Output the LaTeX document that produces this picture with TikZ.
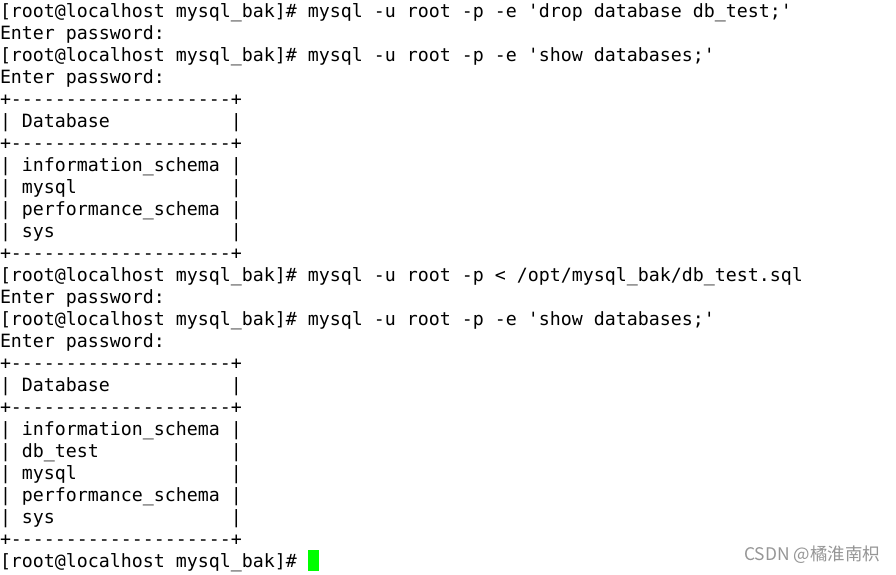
\documentclass[tikz,border=0pt]{standalone}
\usepackage{fontspec}
\setmonofont{DejaVu Sans Mono}
\newfontfamily\cjk{Noto Sans CJK SC}
\usepackage{tikz}
\definecolor{termgreen}{RGB}{0,255,0}
\definecolor{markgray}{RGB}{150,150,150}
\tikzset{
  termline/.style={anchor=base west,inner sep=0pt,outer sep=0pt,
    font=\ttfamily\fontsize{18.27}{22}\selectfont,text=black}
}
\newcommand{\tline}[3]{\node[termline] (#1) at (0,{-17.5-22*#2}) {#3};}

\begin{document}
\begin{tikzpicture}[x=1pt,y=1pt]
\useasboundingbox[fill=white] (0,0) rectangle (896,-574);
% drop the database
\tline{cmdA}{0}{[root@localhost mysql\_bak]\# mysql -u root -p -e 'drop database db\_test;'}
\tline{pwA}{1}{Enter password:}
% list what is left
\tline{cmdB}{2}{[root@localhost mysql\_bak]\# mysql -u root -p -e 'show databases;'}
\tline{pwB}{3}{Enter password:}
\tline{tbA}{4}{+--------------------+}
\tline{hdA}{5}{|~Database~~~~~~~~~~~|}
\tline{tbB}{6}{+--------------------+}
\tline{rA}{7}{|~information\_schema~|}
\tline{rB}{8}{|~mysql~~~~~~~~~~~~~~|}
\tline{rC}{9}{|~performance\_schema~|}
\tline{rD}{10}{|~sys~~~~~~~~~~~~~~~~|}
\tline{tbC}{11}{+--------------------+}
% restore from the dump
\tline{cmdC}{12}{[root@localhost mysql\_bak]\# mysql -u root -p < /opt/mysql\_bak/db\_test.sql}
\tline{pwC}{13}{Enter password:}
% list again
\tline{cmdD}{14}{[root@localhost mysql\_bak]\# mysql -u root -p -e 'show databases;'}
\tline{pwD}{15}{Enter password:}
\tline{tbD}{16}{+--------------------+}
\tline{hdB}{17}{|~Database~~~~~~~~~~~|}
\tline{tbE}{18}{+--------------------+}
\tline{sA}{19}{|~information\_schema~|}
\tline{sB}{20}{|~db\_test~~~~~~~~~~~~|}
\tline{sC}{21}{|~mysql~~~~~~~~~~~~~~|}
\tline{sD}{22}{|~performance\_schema~|}
\tline{sE}{23}{|~sys~~~~~~~~~~~~~~~~|}
\tline{tbF}{24}{+--------------------+}
\tline{cmdE}{25}{[root@localhost mysql\_bak]\#}

% cursor
\fill[termgreen] (308,-550) rectangle (319,-571);

% watermark
\node[anchor=base east,inner sep=0pt,text=markgray,font=\cjk\fontsize{17.4}{19}\selectfont] (mark) at (880,-560) {CSDN @橘淮南枳};
\end{tikzpicture}
\end{document}
